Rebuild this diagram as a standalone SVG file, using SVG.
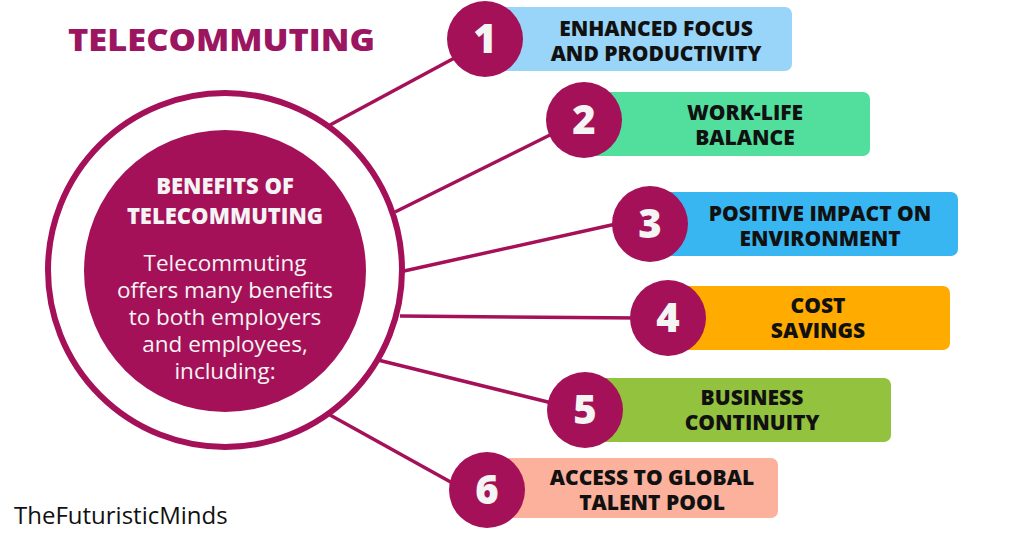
<svg xmlns="http://www.w3.org/2000/svg" width="1024" height="536" viewBox="0 0 1024 536">
<style>
.n{fill:#a51158}
.num{font-family:"Open Sans",Lato,sans-serif;font-weight:800;font-size:40px;fill:#f4f4f4;text-anchor:middle}
.lbl{font-family:"Open Sans",Lato,sans-serif;font-weight:800;font-size:21px;fill:#111;text-anchor:middle}
.c line{stroke:#a51158;stroke-width:3.5}
</style>
<rect width="1024" height="536" fill="#fff"/>
<text x="68" y="51" font-family="Open Sans,sans-serif" font-weight="800" font-size="30" fill="#9b1561" textLength="307" lengthAdjust="spacingAndGlyphs">TELECOMMUTING</text>
<g class="c">
<line x1="330" y1="125" x2="460" y2="55"/>
<line x1="395" y1="212" x2="560" y2="130"/>
<line x1="404" y1="271" x2="625" y2="222"/>
<line x1="400" y1="316" x2="640" y2="318"/>
<line x1="378" y1="360" x2="560" y2="405"/>
<line x1="330" y1="415" x2="465" y2="490"/>
</g>
<g id="center">
<circle cx="225" cy="270" r="177" fill="none" stroke="#a51158" stroke-width="6"/>
<circle cx="225" cy="271" r="141" class="n"/>
<text x="225" y="194" text-anchor="middle" font-family="Open Sans,sans-serif" font-weight="800" font-size="22" fill="#f4f4f4">BENEFITS OF</text>
<text x="225" y="224" text-anchor="middle" font-family="Open Sans,sans-serif" font-weight="800" font-size="22" fill="#f4f4f4">TELECOMMUTING</text>
<g font-family="Open Sans,sans-serif" font-size="22.5" fill="#f4f4f4" text-anchor="middle">
<text x="225" y="271">Telecommuting</text>
<text x="225" y="298">offers many benefits</text>
<text x="225" y="325">to both employers</text>
<text x="225" y="352">and employees,</text>
<text x="225" y="379">including:</text>
</g>
</g>
<g id="b1"><rect x="490" y="7" width="302" height="64" rx="7" fill="#98d5f9"/><circle cx="485" cy="39" r="38" class="n"/><text x="485" y="53" class="num">1</text><text x="656" y="36" class="lbl">ENHANCED FOCUS</text><text x="656" y="61" class="lbl">AND PRODUCTIVITY</text></g>
<g id="b2"><rect x="580" y="92" width="290" height="64" rx="7" fill="#52df9e"/><circle cx="584" cy="120" r="38" class="n"/><text x="584" y="134" class="num">2</text><text x="745" y="120" class="lbl">WORK-LIFE</text><text x="745" y="145" class="lbl">BALANCE</text></g>
<g id="b3"><rect x="645" y="192" width="313" height="64" rx="7" fill="#38b6f1"/><circle cx="650" cy="224" r="38" class="n"/><text x="650" y="238" class="num">3</text><text x="820" y="221" class="lbl">POSITIVE IMPACT ON</text><text x="820" y="246" class="lbl">ENVIRONMENT</text></g>
<g id="b4"><rect x="660" y="286" width="290" height="64" rx="7" fill="#ffab00"/><circle cx="668" cy="318" r="38" class="n"/><text x="668" y="332" class="num">4</text><text x="818" y="313" class="lbl">COST</text><text x="818" y="338" class="lbl">SAVINGS</text></g>
<g id="b5"><rect x="580" y="378" width="311" height="64" rx="7" fill="#93c23e"/><circle cx="585" cy="410" r="38" class="n"/><text x="585" y="424" class="num">5</text><text x="752" y="405" class="lbl">BUSINESS</text><text x="752" y="430" class="lbl">CONTINUITY</text></g>
<g id="b6"><rect x="490" y="458" width="288" height="60" rx="7" fill="#fcb19c"/><circle cx="487" cy="490" r="38" class="n"/><text x="487" y="504" class="num">6</text><text x="652" y="485" class="lbl">ACCESS TO GLOBAL</text><text x="652" y="510" class="lbl">TALENT POOL</text></g>
<text x="14" y="524" font-family="Open Sans,sans-serif" font-size="24" fill="#111">TheFuturisticMinds</text>
</svg>
